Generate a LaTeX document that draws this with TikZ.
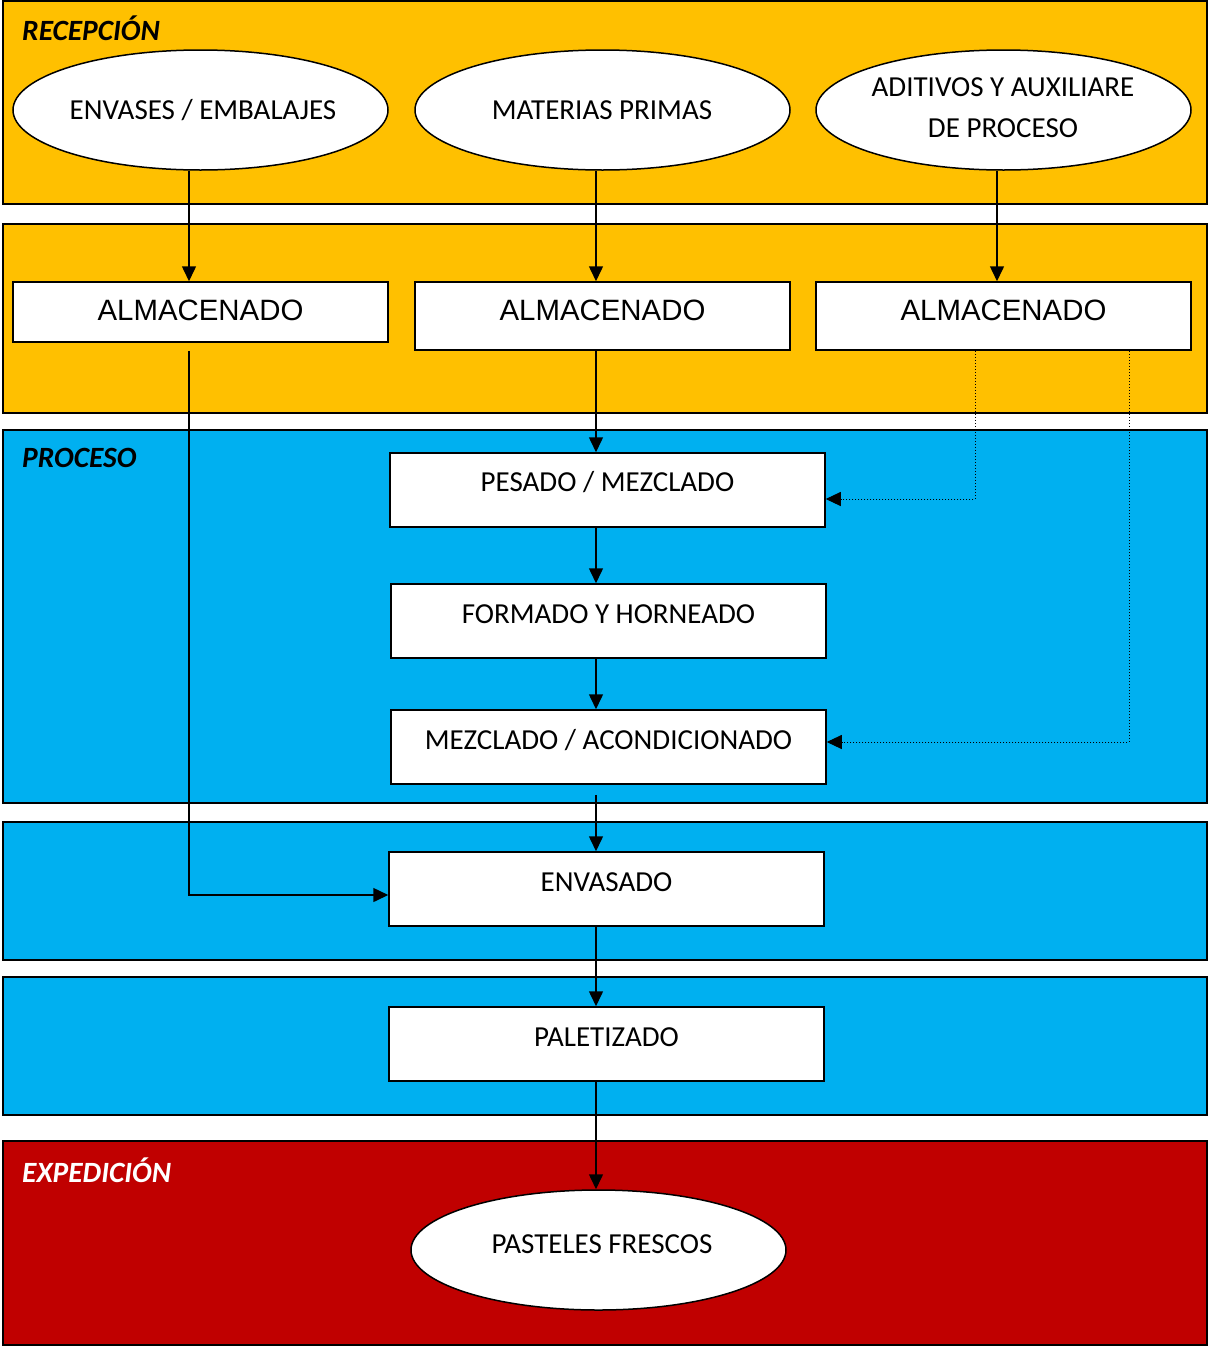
\documentclass[tikz,border=0pt]{standalone}
\usepackage{fontspec}
\setmainfont{Carlito}
\newfontfamily\arialf{Liberation Sans}
\usetikzlibrary{shapes.geometric,arrows.meta}
\definecolor{bandorange}{HTML}{FFC000}
\definecolor{bandblue}{HTML}{00B0F0}
\definecolor{bandred}{HTML}{C00000}
\begin{document}
\begin{tikzpicture}[x=1pt,y=-1pt,
  band/.style={draw=black,line width=2pt},
  ell/.style={ellipse,draw=black,fill=white,line width=1.5pt,minimum width=375pt,minimum height=120pt,inner sep=0pt},
  almbox/.style={rectangle,draw=black,fill=white,line width=1.5pt,minimum width=375pt,inner sep=0pt},
  procbox/.style={rectangle,draw=black,fill=white,line width=1.5pt,minimum width=435pt,minimum height=74pt,inner sep=0pt},
  lbl/.style={font=\fontsize{29}{34}\selectfont,inner sep=0pt,align=center},
  alml/.style={font=\arialf\fontsize{29.4}{34}\selectfont,inner sep=0pt},
  ttl/.style={font=\bfseries\itshape\fontsize{29.4}{34}\selectfont,inner sep=0pt,anchor=west},
  arr/.style={line width=1.5pt,-{Triangle[width=14pt,length=15pt]}},
  dotarr/.style={line width=1pt,dotted,-{Triangle[width=14pt,length=15pt]}}
]
\useasboundingbox (0,0) rectangle (1208,1347);
% bands
\filldraw[band,fill=bandorange] (3,1) rectangle (1207,204);
\filldraw[band,fill=bandorange] (3,224) rectangle (1207,413);
\filldraw[band,fill=bandblue] (3,430) rectangle (1207,803);
\filldraw[band,fill=bandblue] (3,822) rectangle (1207,960);
\filldraw[band,fill=bandblue] (3,977) rectangle (1207,1115);
\filldraw[band,fill=bandred] (3,1141) rectangle (1207,1345);
% titles
\node[ttl] (t1) at (22,28) {RECEPCIÓN};
\node[ttl] (t2) at (22,458) {PROCESO};
\node[ttl,text=white] (t3) at (22,1170) {EXPEDICIÓN};
% ellipses
\node[ell] (e1) at (200.5,110) {};
\node[lbl] (e1t) at (203,110) {ENVASES / EMBALAJES};
\node[ell] (e2) at (602.5,110) {};
\node[lbl] (e2t) at (602,110) {MATERIAS PRIMAS};
\node[ell] (e3) at (1003.5,110) {};
\node[lbl] (e3ta) at (1003,87) {ADITIVOS Y AUXILIARE};
\node[lbl] (e3tb) at (1003,128) {DE PROCESO};
% almacenado
\node[almbox,minimum height=60pt] (a1) at (200.5,312) {};
\node[alml] (a1t) at (200.5,310) {ALMACENADO};
\node[almbox,minimum height=68pt] (a2) at (602.5,316) {};
\node[alml] (a2t) at (602.5,310) {ALMACENADO};
\node[almbox,minimum height=68pt] (a3) at (1003.5,316) {};
\node[alml] (a3t) at (1003.5,310) {ALMACENADO};
% process boxes
\node[procbox] (pes) at (607.5,490) {};
\node[lbl] (pest) at (607.5,482) {PESADO / MEZCLADO};
\node[procbox] (for) at (608.5,621) {};
\node[lbl] (fort) at (608.5,614) {FORMADO Y HORNEADO};
\node[procbox] (mez) at (608.5,747) {};
\node[lbl] (mezt) at (608.5,740) {MEZCLADO / ACONDICIONADO};
\node[procbox] (env) at (606.5,889) {};
\node[lbl] (envt) at (606.5,882) {ENVASADO};
\node[procbox] (pal) at (606.5,1044) {};
\node[lbl] (palt) at (606.5,1037) {PALETIZADO};
\node[ell] (pas) at (598.5,1250) {};
\node[lbl] (past) at (602,1244) {PASTELES FRESCOS};
% guide coordinates
\coordinate (cx) at (596,0);
\coordinate (c1) at (189,0);
\coordinate (c3) at (997,0);
\coordinate (d1) at (975,0);
\coordinate (d2) at (1129,0);
% connectors
\draw[arr] (e1.south -| c1) -- (a1.north -| c1);
\draw[arr] (e2.south -| cx) -- (a2.north -| cx);
\draw[arr] (e3.south -| c3) -- (a3.north -| c3);
\draw[arr] ([shift={(0,8)}]a1.south -| c1) |- ([shift={(0,6)}]env.west);
\draw[arr] (a2.south -| cx) -- (pes.north -| cx);
\draw[arr] (pes.south -| cx) -- (for.north -| cx);
\draw[arr] (for.south -| cx) -- (mez.north -| cx);
\draw[arr] ([shift={(0,10)}]mez.south -| cx) -- (env.north -| cx);
\draw[arr] (env.south -| cx) -- (pal.north -| cx);
\draw[arr] (pal.south -| cx) -- (pas.north -| cx);
\draw[dotarr] (a3.south -| d1) |- ([shift={(0,9)}]pes.east);
\draw[dotarr] (a3.south -| d2) |- ([shift={(0,-5)}]mez.east);
\end{tikzpicture}
\end{document}
